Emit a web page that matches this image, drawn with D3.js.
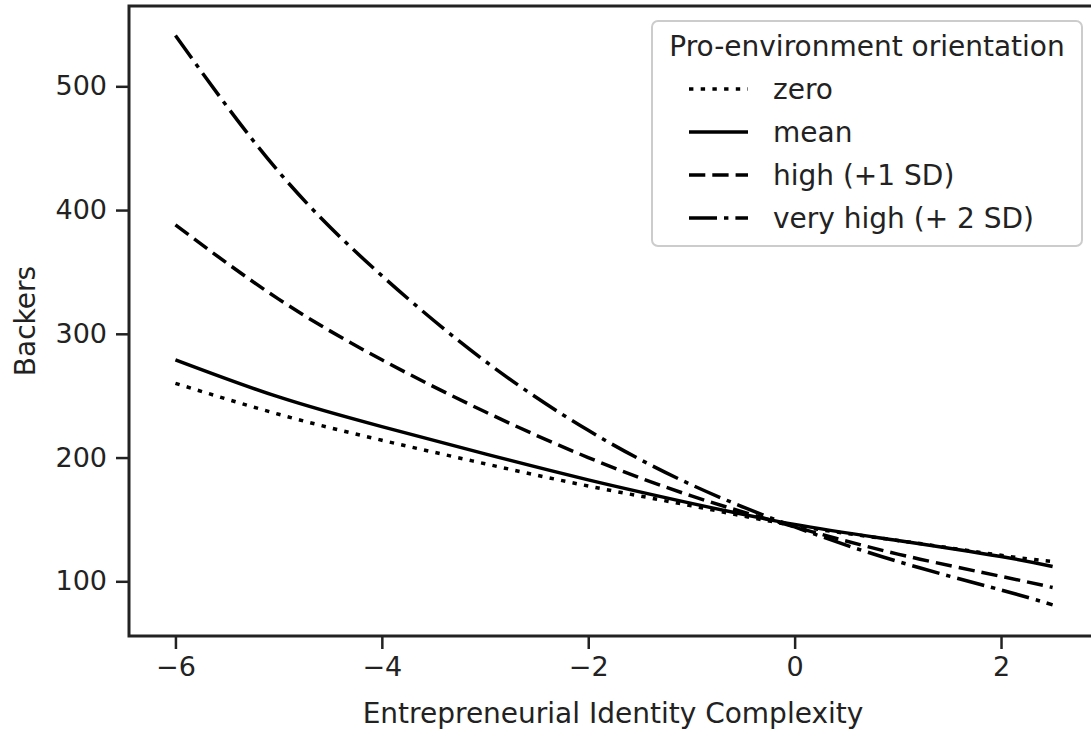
<!DOCTYPE html>
<html>
<head>
<meta charset="utf-8">
<script src="https://cdn.jsdelivr.net/npm/d3@7"></script>
<style>
  body { margin: 0; background: #fff; }
  svg { display: block; font-family: "DejaVu Sans", sans-serif; }
</style>
</head>
<body>
<svg id="svg_backersChart" width="1091" height="730"></svg>
<script>
// Backers vs identity complexity, one line per pro-environment level

const complexity = [-6, -5, -4, -3, -2, -1, 0, 1, 2, 2.5];

const zeroVals     = [260, 235, 214, 195, 177, 161, 145, 133, 121, 116];
const meanVals     = [279, 249, 225, 203, 182, 163, 146, 133, 120, 112];
const highVals     = [388, 328, 279, 237, 200, 169, 144, 122, 104, 95];
const veryHighVals = [541, 431, 347, 278, 222, 178, 144, 116, 93, 81];

const seriesNames = ['zero', 'mean', 'high (+1 SD)', 'very high (+ 2 SD)'];
const xTicks = [-6, -4, -2, 0, 2];
const yTicks = [100, 200, 300, 400, 500];

const legendTitle = 'Pro-environment orientation';
const xLabel = 'Entrepreneurial Identity Complexity';
const yLabel = 'Backers';

class BackersChart {

    constructor() {
        this.svg = d3.select('#svg_backersChart');

        this.left = 129;
        this.right = 1097;
        this.top = 6;
        this.bottom = 636;

        this.xScale = d3.scaleLinear()
                        .domain([-6.45, 2.93])
                        .range([this.left, this.right]);

        this.yScale = d3.scaleLinear()
                        .domain([55.8, 564.9])
                        .range([this.bottom, this.top]);

        // dash patterns (matplotlib-ish styles)
        this.dashes = ['4.4,7.3', null, '16.3,7', '28,7,4.4,7'];

        this.series = [zeroVals, meanVals, highVals, veryHighVals].map((vals, i) => ({
            name: seriesNames[i],
            dash: this.dashes[i],
            points: complexity.map((x, j) => ({ x: x, y: vals[j] }))
        }));
    }

    draw() {
        this.drawLines();
        this.drawAxes();
        this.drawLegend();
    }

    drawLines() {
        let line = d3.line()
                     .x(d => this.xScale(d.x))
                     .y(d => this.yScale(d.y))
                     .curve(d3.curveNatural);

        this.svg.append('g')
            .selectAll('path')
            .data(this.series)
            .join('path')
            .attr('d', d => line(d.points))
            .attr('fill', 'none')
            .attr('stroke', '#000')
            .attr('stroke-width', 3.5)
            .attr('stroke-dasharray', d => d.dash);
    }

    drawAxes() {
        let svg = this.svg;

        let xAxis = d3.axisBottom(this.xScale)
                      .tickValues(xTicks)
                      .tickSize(13)
                      .tickPadding(8)
                      .tickFormat(d => d < 0 ? '\u2212' + Math.abs(d) : d);

        let gx = svg.append('g')
           .attr('transform', `translate(0, ${this.bottom})`)
           .call(xAxis);

        let yAxis = d3.axisLeft(this.yScale)
                      .tickValues(yTicks)
                      .tickSize(13)
                      .tickPadding(9);

        let gy = svg.append('g')
           .attr('transform', `translate(${this.left}, 0)`)
           .call(yAxis);

        [gx, gy].forEach(g => {
            g.select('.domain').remove();
            g.selectAll('.tick line').attr('stroke', '#222').attr('stroke-width', 2.5);
            g.selectAll('.tick text')
             .attr('fill', '#222')
             .style('font-size', '27px')
             .style('font-family', '"DejaVu Sans", sans-serif');
        });

        // frame
        svg.append('rect')
           .attr('x', this.left)
           .attr('y', this.top)
           .attr('width', this.right - this.left)
           .attr('height', this.bottom - this.top)
           .attr('fill', 'none')
           .attr('stroke', '#222')
           .attr('stroke-width', 3);

        svg.append('text')
           .attr('x', (this.left + this.right) / 2)
           .attr('y', 723)
           .attr('text-anchor', 'middle')
           .attr('fill', '#222')
           .style('font-size', '28px')
           .text(xLabel);

        svg.append('text')
           .attr('transform', `translate(35, ${(this.top + this.bottom) / 2}) rotate(-90)`)
           .attr('text-anchor', 'middle')
           .attr('fill', '#222')
           .style('font-size', '28px')
           .text(yLabel);
    }

    drawLegend() {
        let g = this.svg.append('g');

        g.append('rect')
         .attr('x', 652)
         .attr('y', 21)
         .attr('width', 430)
         .attr('height', 225)
         .attr('rx', 6)
         .attr('fill', '#fff')
         .attr('fill-opacity', 0.8)
         .attr('stroke', '#ccc')
         .attr('stroke-width', 2);

        g.append('text')
         .attr('x', 867)
         .attr('y', 56)
         .attr('text-anchor', 'middle')
         .attr('fill', '#222')
         .style('font-size', '28px')
         .text(legendTitle);

        let rows = g.selectAll('.row')
                    .data(this.series)
                    .join('g')
                    .attr('class', 'row')
                    .attr('transform', (d, i) => `translate(0, ${89 + i * 43})`);

        rows.append('line')
            .attr('x1', 689)
            .attr('x2', 748)
            .attr('stroke', '#000')
            .attr('stroke-width', 3.5)
            .attr('stroke-dasharray', d => d.dash);

        rows.append('text')
            .attr('x', 773)
            .attr('y', 10)
            .attr('fill', '#222')
            .style('font-size', '28px')
            .text(d => d.name);
    }
}

let chart = new BackersChart();
chart.draw();
</script>
</body>
</html>
